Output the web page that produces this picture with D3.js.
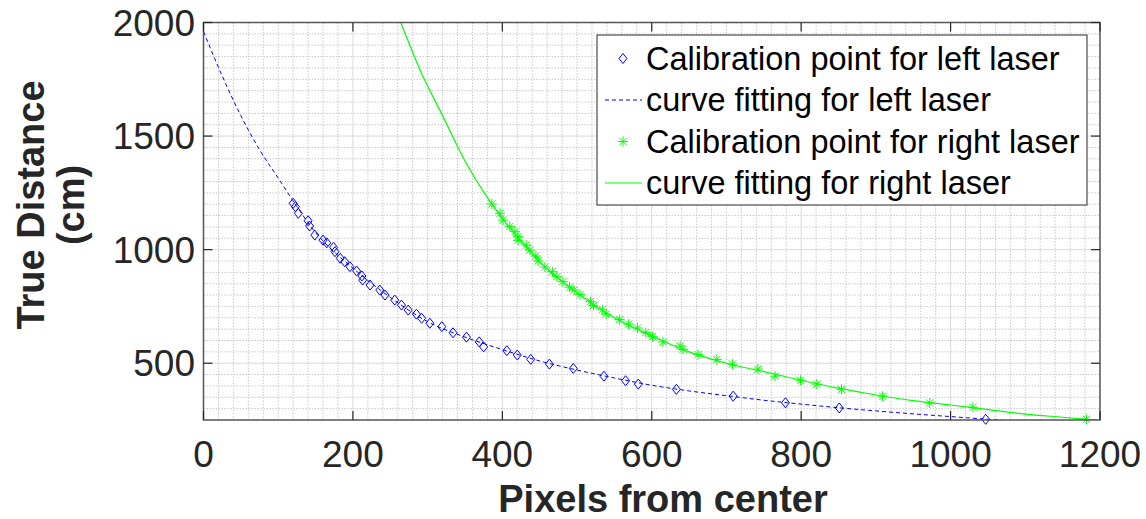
<!DOCTYPE html>
<html>
<head>
<meta charset="utf-8">
<script src="https://cdn.jsdelivr.net/npm/d3@7"></script>
<style>
	body { margin: 0; background: #ffffff; }
</style>
</head>
<body>
<div id="chart"></div>
<script>
var WIDTH = 1146;
var HEIGHT = 519;

// calibration points, left laser (pixels, cm)
var leftX = [120, 123, 127, 140, 142, 149, 160, 165, 174, 176, 183, 189, 196, 205, 212, 213, 223, 236, 243, 256, 265, 274, 285, 292, 303, 319, 334, 352, 369, 375, 406, 420, 438, 463, 495, 536, 565, 582, 633, 709, 779, 851, 1047];
var leftY = [1204, 1189, 1160, 1127, 1104, 1064, 1042, 1030, 1010, 991, 962, 947, 925, 906, 884, 866, 844, 822, 800, 778, 756, 734, 716, 698, 676, 661, 634, 615, 594, 572, 555, 536, 517, 496, 477, 443, 423, 408, 385, 355, 326, 303, 253];

// calibration points, right laser
var rightX = [386, 397, 401, 410, 417, 421, 421, 432, 437, 445, 448, 457, 467, 473, 481, 490, 496, 504, 518, 522, 534, 539, 557, 569, 581, 592, 601, 615, 638, 642, 662, 687, 708, 742, 765, 799, 821, 854, 909, 972, 1030, 1182];
var rightY = [1201, 1160, 1130, 1102, 1079, 1057, 1041, 1020, 998, 972, 950, 923, 903, 881, 859, 835, 822, 802, 771, 754, 735, 716, 692, 672, 655, 635, 617, 594, 576, 561, 538, 516, 496, 474, 443, 425, 408, 385, 355, 325, 306, 253];

// fitted curves
var leftFitX = [0, 25, 50, 75, 100, 125, 150, 175, 200, 250, 300, 350, 400, 450, 500, 550, 600, 650, 700, 750, 800, 850, 900, 950, 1000, 1050, 1100];
var leftFitY = [1960, 1765, 1590, 1440, 1315, 1190, 1075, 990, 918, 790, 683, 615, 560, 510, 470, 435, 403, 378, 357, 337, 320, 304, 290, 277, 265, 253, 242];

var rightFitX = [264, 290, 320, 350, 385, 420, 460, 500, 550, 600, 650, 700, 750, 800, 850, 900, 950, 1000, 1050, 1100, 1150, 1200];
var rightFitY = [2000, 1790, 1590, 1390, 1205, 1055, 915, 810, 700, 620, 550, 500, 463, 425, 390, 360, 335, 316, 296, 276, 262, 248];

var xTicks = [0, 200, 400, 600, 800, 1000, 1200];
var yTicks = [500, 1000, 1500, 2000];
var legendLabels = ["Calibration point for left laser", "curve fitting for left laser", "Calibration point for right laser", "curve fitting for right laser"];

var X0 = 203.5, X1 = 1100, Y0 = 420, Y1 = 22.5;
var BLUE = "#0000ff", GREEN = "#00ff00", AXIS = "#262626";

var x = d3.scaleLinear().domain([0, 1200]).range([X0, X1]);
var y = d3.scaleLinear().domain([250, 2000]).range([Y0, Y1]);

var svg = d3.select("#chart")
			.append("svg")
			.attr("width", WIDTH)
			.attr("height", HEIGHT)
			.style("font-family", "'Liberation Sans', Arial, sans-serif");

svg.append("rect").attr("width", WIDTH).attr("height", HEIGHT).attr("fill", "#ffffff");

// lines clip exactly to the axes, markers may poke out a little
svg.append("clipPath").attr("id", "lineclip")
	.append("rect")
	.attr("x", X0).attr("y", Y1)
	.attr("width", X1 - X0).attr("height", Y0 - Y1);
svg.append("clipPath").attr("id", "markclip")
	.append("rect")
	.attr("x", X0).attr("y", Y1 - 6)
	.attr("width", X1 - X0).attr("height", Y0 - Y1 + 12);

// grid: minor dotted, major solid
var minorX = d3.range(20, 1200, 20).filter(function(v) { return v % 200 != 0; });
var minorY = d3.range(300, 2000, 50).filter(function(v) { return v % 500 != 0; });

var grid = svg.append("g").attr("id", "grid");
grid.selectAll(".mx").data(minorX).enter().append("line")
	.attr("x1", function(d) { return x(d); }).attr("x2", function(d) { return x(d); })
	.attr("y1", Y0).attr("y2", Y1)
	.attr("stroke", "#c8c8c8").attr("stroke-width", 1).attr("stroke-dasharray", "1.5,1.5");
grid.selectAll(".my").data(minorY).enter().append("line")
	.attr("y1", function(d) { return y(d); }).attr("y2", function(d) { return y(d); })
	.attr("x1", X0).attr("x2", X1)
	.attr("stroke", "#c8c8c8").attr("stroke-width", 1).attr("stroke-dasharray", "1.5,1.5");
grid.selectAll(".Mx").data(xTicks.slice(1, -1)).enter().append("line")
	.attr("x1", function(d) { return x(d); }).attr("x2", function(d) { return x(d); })
	.attr("y1", Y0).attr("y2", Y1)
	.attr("stroke", "#d9d9d9").attr("stroke-width", 1);
grid.selectAll(".My").data(yTicks.slice(0, -1)).enter().append("line")
	.attr("y1", function(d) { return y(d); }).attr("y2", function(d) { return y(d); })
	.attr("x1", X0).attr("x2", X1)
	.attr("stroke", "#d9d9d9").attr("stroke-width", 1);

// curves
var curves = svg.append("g").attr("clip-path", "url(#lineclip)");

var line = d3.line()
			.x(function(d) { return x(d[0]); })
			.y(function(d) { return y(d[1]); })
			.curve(d3.curveMonotoneX);

curves.append("path")
	.datum(d3.zip(leftFitX, leftFitY))
	.attr("d", line)
	.attr("fill", "none")
	.attr("stroke", BLUE)
	.attr("stroke-width", 1)
	.attr("stroke-dasharray", "4,3");

curves.append("path")
	.datum(d3.zip(rightFitX, rightFitY))
	.attr("d", line)
	.attr("fill", "none")
	.attr("stroke", GREEN)
	.attr("stroke-width", 1.2);

// markers
function diamond(g) {
	g.append("path")
		.attr("d", "M0,-5L4,0L0,5L-4,0Z")
		.attr("fill", "none")
		.attr("stroke", BLUE)
		.attr("stroke-width", 1);
}
function star(g) {
	g.append("path")
		.attr("d", "M-5,0H5M0,-5V5M-3.6,-3.6L3.6,3.6M-3.6,3.6L3.6,-3.6")
		.attr("fill", "none")
		.attr("stroke", GREEN)
		.attr("stroke-width", 1);
}

var marks = svg.append("g").attr("clip-path", "url(#markclip)");

marks.selectAll(".lp").data(d3.zip(leftX, leftY)).enter().append("g")
	.attr("transform", function(d) { return "translate(" + x(d[0]) + "," + y(d[1]) + ")"; })
	.each(function() { diamond(d3.select(this)); });

marks.selectAll(".rp").data(d3.zip(rightX, rightY)).enter().append("g")
	.attr("transform", function(d) { return "translate(" + x(d[0]) + "," + y(d[1]) + ")"; })
	.each(function() { star(d3.select(this)); });

// axes box and ticks
svg.append("rect")
	.attr("x", X0).attr("y", Y1)
	.attr("width", X1 - X0).attr("height", Y0 - Y1)
	.attr("fill", "none")
	.attr("stroke", "#555555")
	.attr("stroke-width", 1.5);

var TL = 9;
var ticks = svg.append("g").attr("stroke", AXIS).attr("stroke-width", 1.2);
xTicks.forEach(function(v) {
	ticks.append("line").attr("x1", x(v)).attr("x2", x(v)).attr("y1", Y0).attr("y2", Y0 - TL);
	ticks.append("line").attr("x1", x(v)).attr("x2", x(v)).attr("y1", Y1).attr("y2", Y1 + TL);
});
yTicks.forEach(function(v) {
	ticks.append("line").attr("y1", y(v)).attr("y2", y(v)).attr("x1", X0).attr("x2", X0 + TL);
	ticks.append("line").attr("y1", y(v)).attr("y2", y(v)).attr("x1", X1).attr("x2", X1 - TL);
});

svg.selectAll(".xl").data(xTicks).enter().append("text")
	.attr("x", function(d) { return x(d); })
	.attr("y", 467)
	.attr("text-anchor", "middle")
	.attr("font-size", "37px")
	.attr("fill", AXIS)
	.text(function(d) { return d; });

svg.selectAll(".yl").data(yTicks).enter().append("text")
	.attr("x", 195)
	.attr("y", function(d) { return y(d) + 13; })
	.attr("text-anchor", "end")
	.attr("font-size", "37px")
	.attr("fill", AXIS)
	.text(function(d) { return d; });

// axis titles
svg.append("text")
	.attr("x", 663)
	.attr("y", 512)
	.attr("text-anchor", "middle")
	.attr("font-size", "38px")
	.attr("font-weight", "bold")
	.attr("fill", AXIS)
	.text("Pixels from center");

var ytitle = svg.append("text")
	.attr("transform", "translate(44,205) rotate(-90)")
	.attr("text-anchor", "middle")
	.attr("font-size", "38px")
	.attr("font-weight", "bold")
	.attr("fill", AXIS);
ytitle.append("tspan").attr("x", 0).attr("dy", 0).text("True Distance");
ytitle.append("tspan").attr("x", 0).attr("dy", 40).text("(cm)");

// legend
var legend = svg.append("g").attr("id", "legend");
legend.append("rect")
	.attr("x", 597).attr("y", 35)
	.attr("width", 490).attr("height", 170)
	.attr("fill", "#ffffff")
	.attr("stroke", AXIS)
	.attr("stroke-width", 1);

var rowY = [58.5, 100, 141.5, 183];
legend.append("g").attr("transform", "translate(623," + rowY[0] + ")").call(diamond);
legend.append("line").attr("x1", 605).attr("x2", 642).attr("y1", rowY[1]).attr("y2", rowY[1])
	.attr("stroke", BLUE).attr("stroke-width", 1).attr("stroke-dasharray", "4,3");
legend.append("g").attr("transform", "translate(623," + rowY[2] + ")").call(star);
legend.append("line").attr("x1", 605).attr("x2", 642).attr("y1", rowY[3]).attr("y2", rowY[3])
	.attr("stroke", GREEN).attr("stroke-width", 1.2);

legend.selectAll(".lt").data(legendLabels).enter().append("text")
	.attr("x", 646)
	.attr("y", function(d, i) { return rowY[i] + 11; })
	.attr("font-size", "32.5px")
	.attr("fill", "#000000")
	.text(function(d) { return d; });
</script>
</body>
</html>
